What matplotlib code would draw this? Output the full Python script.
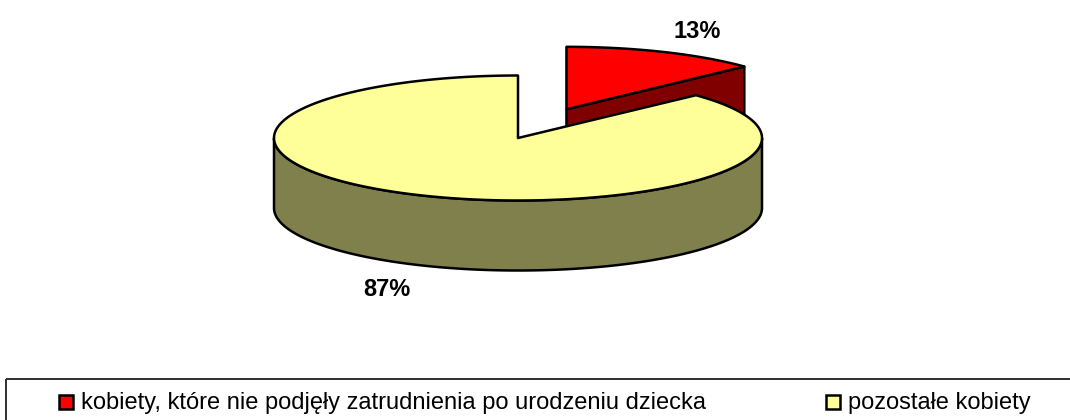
import numpy as np
import matplotlib.pyplot as plt
from matplotlib.patches import Polygon, Rectangle

# Data
labels = ['kobiety, które nie podjęły zatrudnienia po urodzeniu dziecka', 'pozostałe kobiety']
shares = [13, 87]
top_colors = ['#FF0000', '#FFFF99']
side_colors = ['#800000', '#80804D']
explode = [0.5, 0.0]

W, H = 1070, 420
fig = plt.figure(figsize=(W / 100, H / 100), dpi=100)
ax = fig.add_axes([0, 0, 1, 1])
ax.set_xlim(0, W)
ax.set_ylim(H, 0)
ax.axis('off')

# pie geometry (pixels)
cx, cy, rx, ry, depth = 518, 138, 244, 62.5, 70
lw = 1.8
font = 'Liberation Sans'


def pt(x0, y0, t, dz=0.0):
    return x0 + rx * np.cos(t), y0 - ry * np.sin(t) + dz


fracs = np.array(shares) / sum(shares)
starts = 90 - 360 * np.concatenate([[0], np.cumsum(fracs)[:-1]])
ends = starts - 360 * fracs

for i in range(len(shares)):
    t1, t2 = np.radians(starts[i]), np.radians(ends[i])
    mid = (t1 + t2) / 2
    ox = cx + explode[i] * rx * np.cos(mid)
    oy = cy - explode[i] * ry * np.sin(mid)

    # radial side faces
    for t, vis in [(t2, np.cos(t2) > 1e-9), (t1, np.cos(t1) < -1e-9)]:
        if vis:
            px, py = pt(ox, oy, t)
            quad = [(ox, oy), (px, py), (px, py + depth), (ox, oy + depth)]
            ax.add_patch(Polygon(quad, closed=True, fc=side_colors[i], ec='black', lw=lw, joinstyle='round'))

    # outer curved side (front half only)
    ts = np.linspace(t1, t2, 600)
    front = np.sin(ts) <= 0
    if front.any():
        idx = np.where(front)[0]
        groups = np.split(idx, np.where(np.diff(idx) > 1)[0] + 1)
        for g in groups:
            tt = ts[g]
            xs, ys = pt(ox, oy, tt)
            poly = np.column_stack([np.concatenate([xs, xs[::-1]]),
                                    np.concatenate([ys, (ys + depth)[::-1]])])
            ax.add_patch(Polygon(poly, closed=True, fc=side_colors[i], ec='black', lw=lw, joinstyle='round'))

    # top face
    xs, ys = pt(ox, oy, ts)
    poly = np.column_stack([np.concatenate([[ox], xs]), np.concatenate([[oy], ys])])
    ax.add_patch(Polygon(poly, closed=True, fc=top_colors[i], ec='black', lw=lw, joinstyle='round'))

    # percentage label
    lx = ox + 1.35 * rx * np.cos(mid)
    ly = oy - 1.35 * ry * np.sin(mid)
    if np.sin(mid) < 0:
        ly += depth + 4
    ax.text(lx, ly, f'{shares[i]}%', ha='center', va='center', fontsize=17,
            fontweight='bold', family=font)

# legend
ax.add_patch(Rectangle((6, 379), 1200, 100, fc='none', ec='#303030', lw=1.4))
leg_x = [59, 826]
for i, lab in enumerate(labels):
    ax.add_patch(Rectangle((leg_x[i], 395), 14, 14, fc=top_colors[i], ec='black', lw=1.8))
    ax.text(leg_x[i] + 22, 409, lab, ha='left', va='baseline', fontsize=17, family=font)

fig.savefig('out.png', dpi=100)
